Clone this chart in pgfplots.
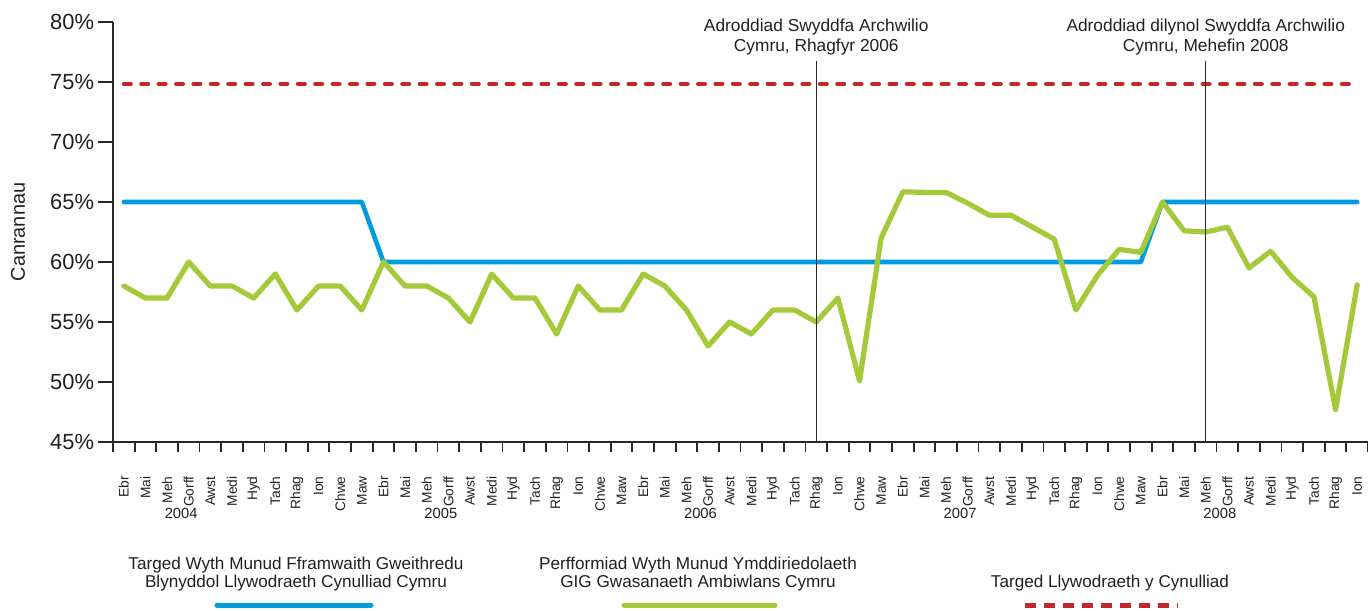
\documentclass[border=0pt]{standalone}
\usepackage{pgfplots}
\pgfplotsset{compat=1.18}
\usepackage{fontspec}
\setmainfont{Liberation Sans}
\definecolor{cblue}{RGB}{0,156,222}
\definecolor{cgreen}{RGB}{164,201,57}
\definecolor{cred}{RGB}{193,39,45}
\definecolor{axgray}{RGB}{40,40,40}
\definecolor{txt}{RGB}{35,31,32}
\begin{document}
\begin{tikzpicture}[x=1bp,y=1bp]
\path[use as bounding box] (0,0) rectangle (684,305);
\begin{axis}[
  at={(56.5bp,84bp)}, anchor=south west,
  width=627.5bp, height=210bp, scale only axis,
  xmin=-0.5, xmax=57.5, ymin=45, ymax=80,
  axis x line*=bottom, axis y line*=left,
  axis line style={line width=1bp, draw=axgray},
  clip=false,
  tick align=outside,
  xtick={0,...,57},
  xticklabels={Ebr,Mai,Meh,Gorff,Awst,Medi,Hyd,Tach,Rhag,Ion,Chwe,Maw,
               Ebr,Mai,Meh,Gorff,Awst,Medi,Hyd,Tach,Rhag,Ion,Chwe,Maw,
               Ebr,Mai,Meh,Gorff,Awst,Medi,Hyd,Tach,Rhag,Ion,Chwe,Maw,
               Ebr,Mai,Meh,Gorff,Awst,Medi,Hyd,Tach,Rhag,Ion,Chwe,Maw,
               Ebr,Mai,Meh,Gorff,Awst,Medi,Hyd,Tach,Rhag,Ion},
  minor xtick={-0.5,0.5,...,57.5},
  major x tick style={draw=none},
  minor x tick style={line width=0.9bp, draw=axgray},
  minor tick length=5bp,
  major tick length=7.5bp,
  y tick style={line width=0.9bp, draw=axgray},
  ytick={45,50,...,80},
  yticklabels={45\%,50\%,55\%,60\%,65\%,70\%,75\%,80\%},
  xticklabel style={font=\fontsize{6.9}{7.5}\selectfont, text=txt, inner sep=0pt, yshift=-9.5bp, rotate=90, anchor=east},
  yticklabel style={font=\fontsize{11}{12}\selectfont, text=txt, inner sep=0pt, xshift=-1.75bp, anchor=east},
]
% target line (dashed red)
\addplot[cred, line width=2bp, line cap=round, dash pattern=on 3.5bp off 5.2bp] coordinates {(0,74.85) (57,74.85)};
% blue target
\addplot[cblue, line width=2.3bp, line cap=round, line join=round] coordinates {(0,65) (11,65) (12,60) (47,60) (48,65) (57,65)};
% green performance
\addplot[cgreen, line width=2.6bp, line cap=round, line join=round] coordinates {
(0,58) (1,57) (2,57) (3,60) (4,58) (5,58) (6,57) (7,59) (8,56) (9,58) (10,58) (11,56)
(12,60) (13,58) (14,58) (15,57) (16,55) (17,59) (18,57) (19,57) (20,54) (21,58) (22,56) (23,56)
(24,59) (25,58) (26,56) (27,53) (28,55) (29,54) (30,56) (31,56) (32,55) (33,57) (34,50.1) (35,62)
(36,65.85) (37,65.8) (38,65.8) (39,64.9) (40,63.9) (41,63.9) (42,62.9) (43,61.9) (44,56) (45,58.9) (46,61.05) (47,60.8)
(48,65) (49,62.6) (50,62.5) (51,62.9) (52,59.5) (53,60.9) (54,58.7) (55,57.1) (56,47.7) (57,58.1)
};
% report markers
\draw[axgray, line width=0.6bp] (axis cs:32,45) -- (axis cs:32,76.75);
\draw[axgray, line width=0.6bp] (axis cs:50,45) -- (axis cs:50,76.75);
\node[anchor=south, align=center, inner sep=0pt, text=txt, font=\fontsize{8.7}{10}\selectfont] at (axis cs:32,77.2) {Adroddiad Swyddfa Archwilio\\Cymru, Rhagfyr 2006};
\node[anchor=south, align=center, inner sep=0pt, text=txt, font=\fontsize{8.7}{10}\selectfont] at (axis cs:50,77.2) {Adroddiad dilynol Swyddfa Archwilio\\Cymru, Mehefin 2008};
% years
\node[anchor=base, inner sep=0pt, text=txt, font=\fontsize{7.4}{8}\selectfont] at (axis cs:2.65,38.65) {2004};
\node[anchor=base, inner sep=0pt, text=txt, font=\fontsize{7.4}{8}\selectfont] at (axis cs:14.65,38.65) {2005};
\node[anchor=base, inner sep=0pt, text=txt, font=\fontsize{7.4}{8}\selectfont] at (axis cs:26.65,38.65) {2006};
\node[anchor=base, inner sep=0pt, text=txt, font=\fontsize{7.4}{8}\selectfont] at (axis cs:38.65,38.65) {2007};
\node[anchor=base, inner sep=0pt, text=txt, font=\fontsize{7.4}{8}\selectfont] at (axis cs:50.65,38.65) {2008};
\end{axis}
% y label
\node[rotate=90, text=txt, font=\fontsize{10}{12}\selectfont] at (9,189) {Canrannau};
% legend
\node[anchor=base, inner sep=0pt, text=txt, font=\fontsize{8.6}{9}\selectfont] at (148,20.5) {Targed Wyth Munud Fframwaith Gweithredu};
\node[anchor=base, inner sep=0pt, text=txt, font=\fontsize{8.6}{9}\selectfont] at (148,11.5) {Blynyddol Llywodraeth Cynulliad Cymru};
\draw[cblue, line width=2.5bp, line cap=round] (108.5,2.5) -- (185.5,2.5);
\node[anchor=base, inner sep=0pt, text=txt, font=\fontsize{8.6}{9}\selectfont] at (349,20.5) {Perfformiad Wyth Munud Ymddiriedolaeth};
\node[anchor=base, inner sep=0pt, text=txt, font=\fontsize{8.6}{9}\selectfont] at (349,11.5) {GIG Gwasanaeth Ambiwlans Cymru};
\draw[cgreen, line width=2.5bp, line cap=round] (312,2.5) -- (387.5,2.5);
\node[anchor=base, inner sep=0pt, text=txt, font=\fontsize{8.6}{9}\selectfont] at (555,11.5) {Targed Llywodraeth y Cynulliad};
\draw[cred, line width=2.5bp, dash pattern=on 5.5bp off 4bp] (512.5,2.5) -- (589,2.5);
\end{tikzpicture}
\end{document}
